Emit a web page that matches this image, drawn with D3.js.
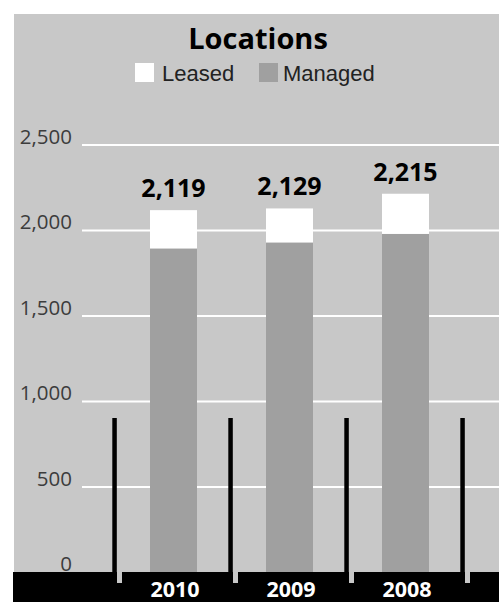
<!DOCTYPE html>
<html>
<head>
<meta charset="utf-8">
<script src="https://cdn.jsdelivr.net/npm/d3@7"></script>
<style>
  html, body { margin: 0; padding: 0; background: #ffffff; }
  svg { display: block; }
</style>
</head>
<body>
<script>
// Locations by year, split into leased and managed sites
const years = ["2010", "2009", "2008"];
const totals = [2119, 2129, 2215];
const managed = [1895, 1930, 1980];
const leased = totals.map((t, i) => t - managed[i]);
const yTicks = [0, 500, 1000, 1500, 2000, 2500];
const seriesNames = ["Leased", "Managed"];

const W = 499, H = 602;
const colors = { Leased: "#ffffff", Managed: "#a0a0a0" };
const bg = "#c8c8c8";

const svg = d3.select("body").append("svg").attr("width", W).attr("height", H);

// panel background
svg.append("rect").attr("x", 14).attr("y", 14).attr("width", W - 14).attr("height", H - 14).attr("fill", bg);

const y = d3.scaleLinear().domain([0, 2500]).range([572.5, 145]);
const x = d3.scaleBand().domain(years).range([114.5, 462.5]).padding(0);
const barW = 47;

// gridlines and y labels
const grid = svg.append("g");
grid.selectAll("line").data(yTicks.filter(d => d > 0)).join("line")
  .attr("x1", 82).attr("x2", W)
  .attr("y1", d => y(d)).attr("y2", d => y(d))
  .attr("stroke", "#ffffff").attr("stroke-width", 1.8);
grid.selectAll("text").data(yTicks).join("text")
  .attr("x", 72).attr("y", d => y(d) - 1.5)
  .attr("text-anchor", "end")
  .attr("font-family", "'Open Sans', sans-serif")
  .attr("font-size", 20.5).attr("fill", "#3c3c3c")
  .text(d => d3.format(",")(d));

// stacked bars
const rows = years.map((yr, i) => ({ year: yr, Managed: managed[i], Leased: leased[i], total: totals[i] }));
const stack = d3.stack().keys(["Managed", "Leased"])(rows);
const barX = d => x(d.data.year) + x.bandwidth() / 2 + 1 - barW / 2;
svg.append("g").selectAll("g").data(stack).join("g")
  .attr("fill", s => colors[s.key])
  .selectAll("rect").data(s => s).join("rect")
  .attr("x", barX)
  .attr("width", barW)
  .attr("y", d => y(d[1]))
  .attr("height", d => y(d[0]) - y(d[1]));

// total value labels
svg.append("g").selectAll("text").data(rows).join("text")
  .attr("x", d => x(d.year) + x.bandwidth() / 2 + 1)
  .attr("y", d => y(d.total) - 13)
  .attr("text-anchor", "middle")
  .attr("font-family", "'Open Sans', sans-serif")
  .attr("font-weight", 700)
  .attr("font-size", 25).attr("fill", "#000000")
  .text(d => d3.format(",")(d.total));

// category strip along the baseline
svg.append("rect").attr("x", 13).attr("y", 572).attr("width", W - 13).attr("height", H - 572).attr("fill", "#000000");

// band divider marks
const bounds = years.map(d => x(d)).concat([x.range()[1]]);
const marks = svg.append("g");
marks.selectAll("rect.notch").data(bounds).join("rect").attr("class", "notch")
  .attr("x", d => d + 2.5).attr("y", 572).attr("width", 5).attr("height", 11)
  .attr("fill", bg);
marks.selectAll("rect.tick").data(bounds).join("rect").attr("class", "tick")
  .attr("x", d => d - 2.2).attr("y", 418).attr("width", 4.5).attr("height", 165)
  .attr("fill", "#000000");

// category labels
svg.append("g").selectAll("text").data(years).join("text")
  .attr("x", d => x(d) + x.bandwidth() / 2 + 2.5)
  .attr("y", 597)
  .attr("text-anchor", "middle")
  .attr("font-family", "'Open Sans', sans-serif")
  .attr("font-weight", 700)
  .attr("font-size", 21.5).attr("fill", "#ffffff")
  .text(d => d);

// title
svg.append("text")
  .attr("x", 258).attr("y", 49)
  .attr("text-anchor", "middle")
  .attr("font-family", "'Open Sans', sans-serif")
  .attr("font-weight", 700)
  .attr("font-size", 29).attr("fill", "#000000")
  .text("Locations");

// legend
const legendX = [135, 259];
const legend = svg.append("g").selectAll("g").data(seriesNames).join("g")
  .attr("transform", (d, i) => `translate(${legendX[i]},63)`);
legend.append("rect").attr("width", 19).attr("height", 19).attr("fill", d => colors[d]);
legend.append("text")
  .attr("x", (d, i) => i === 0 ? 27 : 24).attr("y", 18)
  .attr("font-family", "'Liberation Sans', Arial, sans-serif")
  .attr("font-size", 22).attr("fill", "#222222")
  .text(d => d);
</script>
</body>
</html>
